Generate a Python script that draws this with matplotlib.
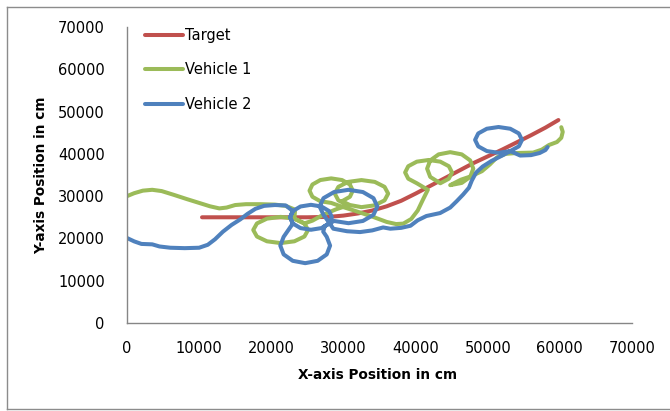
import matplotlib
matplotlib.use("Agg")
import matplotlib.pyplot as plt
from matplotlib.lines import Line2D

# ---- data (cm) ----
target_x = [10400, 15000, 20000, 25000, 28000, 30000, 32000, 34000, 36000, 38000,
            40000, 42000, 44000, 46000, 48000, 50000, 52000, 54000, 56000, 58000, 59800]
target_y = [25000, 25000, 25000, 25000, 25100, 25400, 25900, 26600, 27600, 28900,
            30600, 32400, 34200, 36000, 37800, 39400, 41000, 42700, 44400, 46200, 48000]

v1_x = [0, 1000, 2200, 3500, 4800, 6500, 8300, 10000, 11500, 12800, 13800, 15000,
        16500, 18500, 20500, 22000, 23300, 23200,
        24590, 25100, 24590, 23200, 21300, 19400, 18010, 17500, 18010, 19400, 21300,
        23200, 24590, 25700, 27200, 29000,
        30650, 29300, 28800, 29300, 30650, 32500, 34350, 35700, 36200, 35700, 34350,
        32500, 30900,
        29800, 30900, 31300, 30900, 29800, 28300, 26800, 25700, 25300, 25700, 26800,
        28300,
        29800, 31300, 32700, 34100, 36000, 37300, 38300, 39400, 40300, 41000, 41700,
        40175, 38985, 38550, 38985, 40175, 41800, 43425, 44615, 45050, 44615, 43425,
        42030, 41600, 42030, 43200, 44800, 46400, 47570, 48000, 47570, 46400, 44800,
        46300, 47700, 49200, 50300, 51300, 52500, 54000, 56300, 57500, 58500, 59600,
        60200, 60400, 60200]
v1_y = [30000, 30700, 31300, 31500, 31200, 30300, 29300, 28400, 27600, 27100, 27300, 27900,
        28100, 28100, 28000, 27700, 26800, 24680,
        23550, 22000, 20450, 19320, 18900, 19320, 20450, 22000, 23550, 24680, 25100,
        24680, 23550, 24200, 25600, 26900,
        27830, 29000, 30600, 32200, 33370, 33800, 33370, 32200, 30600, 29000, 27830,
        27400, 27900,
        28790, 29850, 31300, 32750, 33810, 34200, 33810, 32750, 31300, 29850, 28790,
        28400,
        27500, 26700, 25900, 25100, 23900, 23400, 23500, 24600, 26600, 29100, 31500,
        33045, 34125, 35600, 37075, 38155, 38550, 38155, 37075, 35600, 34125, 33045,
        34550, 36500, 38450, 39880, 40400, 39880, 38450, 36500, 34550, 33125, 32600,
        33900, 34700, 35900, 37500, 39200, 40000, 40200, 40300, 41000, 42100, 42800,
        43800, 45200, 46300]

v2_x = [0, 1000, 2000, 3500, 4500, 6000, 8000, 10000, 11200, 12200, 13300, 14500,
        15700, 16700, 17800, 19000, 20500, 22000,
        22990, 22600, 22990, 24050, 25500, 26950, 28010, 28400, 28010, 26950, 25500,
        24050, 22990, 22600, 22990,
        21712, 21250, 21712, 22975, 24700, 26425, 27688, 28150, 27688, 27200, 27400,
        28700, 30700, 32700, 34164, 34700, 34164, 32700, 30700, 28700, 27236, 26700,
        27236, 28000,
        28600, 30500, 32300, 34000, 35500, 36500, 38000, 39300, 40300, 41500, 43400,
        44800, 45700, 46600, 47400, 47800, 48400, 49300, 50500, 52000,
        53125, 54315, 54750, 54315, 53125, 51500, 49875, 48685, 48250, 48685, 49875,
        51500, 53125,
        54500, 56000, 57200, 58000, 58300]
v2_y = [20100, 19300, 18700, 18600, 18100, 17800, 17700, 17800, 18500, 19800, 21600, 23200,
        24500, 25800, 27000, 27700, 27900, 27800,
        26475, 25000, 23525, 22445, 22050, 22445, 23525, 25000, 26475, 27555, 27950,
        27555, 26475, 25000, 23525,
        20375, 18300, 16225, 14706, 14150, 14706, 16225, 18300, 20375, 21600, 22900,
        24130, 23600, 24130, 25575, 27550, 29525, 30970, 31500, 30970, 29525, 27550,
        25575, 23800,
        22300, 21700, 21500, 21900, 22600, 22300, 22500, 23000, 24300, 25300, 26000,
        27300, 28800, 30400, 32000, 33700, 35600, 37000, 38300, 39600,
        40660, 41775, 43300, 44825, 45940, 46350, 45940, 44825, 43300, 41775, 40660,
        40250, 40660,
        39600, 39700, 40200, 40900, 41600]

x_ticks = [0, 10000, 20000, 30000, 40000, 50000, 60000, 70000]
y_ticks = [0, 10000, 20000, 30000, 40000, 50000, 60000, 70000]
labels = ["Target", "Vehicle 1", "Vehicle 2"]
colors = ["#C0504D", "#9BBB59", "#4F81BD"]

W, H = 670, 411
fig = plt.figure(figsize=(W / 100, H / 100), dpi=100)
ax = fig.add_axes([127 / W, 1 - 323 / H, (632 - 127) / W, (323 - 27) / H])

# outer chart border
for (x0, y0, x1, y1) in [(7, 7, 7, 409), (7, 7, 672, 7), (7, 409, 672, 409)]:
    fig.add_artist(Line2D([x0 / W, x1 / W], [1 - y0 / H, 1 - y1 / H],
                          color="#8C8C8C", lw=1.0, transform=fig.transFigure))

lw = 2.9
for xs, ys, lab, c in [(target_x, target_y, labels[0], colors[0]),
                       (v1_x, v1_y, labels[1], colors[1]),
                       (v2_x, v2_y, labels[2], colors[2])]:
    ax.plot(xs, ys, color=c, lw=lw, label=lab, solid_joinstyle="round",
            solid_capstyle="round")

ax.set_xlim(0, 70000)
ax.set_ylim(0, 70000)
ax.set_xticks(x_ticks)
ax.set_yticks(y_ticks)
ax.set_xticklabels([str(t) for t in x_ticks])
ax.set_yticklabels([str(t) for t in y_ticks])
ax.tick_params(axis="both", length=0, labelsize=10.5, colors="#000000")
ax.tick_params(axis="x", pad=13)
ax.tick_params(axis="y", pad=16)
for s in ["top", "right"]:
    ax.spines[s].set_visible(False)
for s in ["left", "bottom"]:
    ax.spines[s].set_color("#868686")
    ax.spines[s].set_linewidth(1.0)

ax.set_xlabel("X-axis Position in cm", fontsize=9.8, fontweight="bold")
ax.set_ylabel("Y-axis Position in cm", fontsize=9.8, fontweight="bold")
ax.xaxis.set_label_coords(0.496, -0.152)
ax.yaxis.set_label_coords(-0.156, 0.5)

leg = ax.legend(loc="upper left", bbox_to_anchor=(0.024, 1.016), frameon=False,
                fontsize=10.5, handlelength=2.6, handletextpad=0.15,
                labelspacing=1.33, borderaxespad=0)

fig.savefig("out.png", dpi=100)
